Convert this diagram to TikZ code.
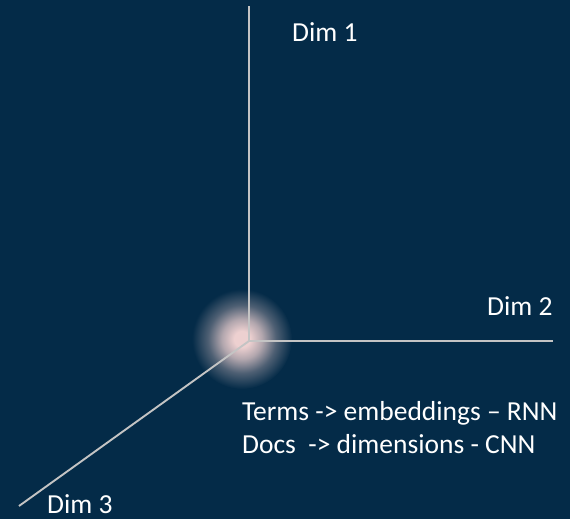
\documentclass[tikz,border=0pt]{standalone}
\usepackage{fontspec}
\setmainfont{Carlito}
\definecolor{bgblue}{HTML}{042B48}
\definecolor{axisgray}{HTML}{C4C4C4}
\definecolor{glowpink}{HTML}{EDD0D0}
\pgfdeclareradialshading{glow}{\pgfpoint{0bp}{0bp}}{color(0bp)=(glowpink); color(4bp)=(glowpink); color(10bp)=(glowpink!75!bgblue); color(17bp)=(glowpink!32!bgblue); color(25bp)=(bgblue); color(50bp)=(bgblue)}

\begin{document}
\begin{tikzpicture}[x=1pt, y=-1pt, every node/.style={text=white, font=\fontsize{27.5}{33}\selectfont, inner sep=0pt, anchor=base west}]
            % background
            \fill[bgblue] (0,0) rectangle (570,519);
            \useasboundingbox (0,0) rectangle (570,519);

            % glow at the origin
            \shade[shading=glow] (242,339) circle (50);

            % axis
            \coordinate (o) at (249,341);
            \coordinate (end1) at (249,6);
            \coordinate (end2) at (553,341);
            \coordinate (end3) at (19,506);
            \draw[axisgray, line width=1.9pt] (o) -- (end1);
            \draw[axisgray, line width=1.9pt] (o) -- (end2);
            \draw[axisgray, line width=1.9pt] (o) -- (end3);

            % axis labels
            \node (dim1) at (292,42) {Dim 1};
            \node (dim2) at (487,315) {Dim 2};
            \node (dim3) at (47,513) {Dim 3};

            % notes
            \node (terms) at (242,420) {Terms -> embeddings -- RNN};
            \node (docs) at (242,453) {Docs\ \ -> dimensions - CNN};
        \end{tikzpicture}
\end{document}
